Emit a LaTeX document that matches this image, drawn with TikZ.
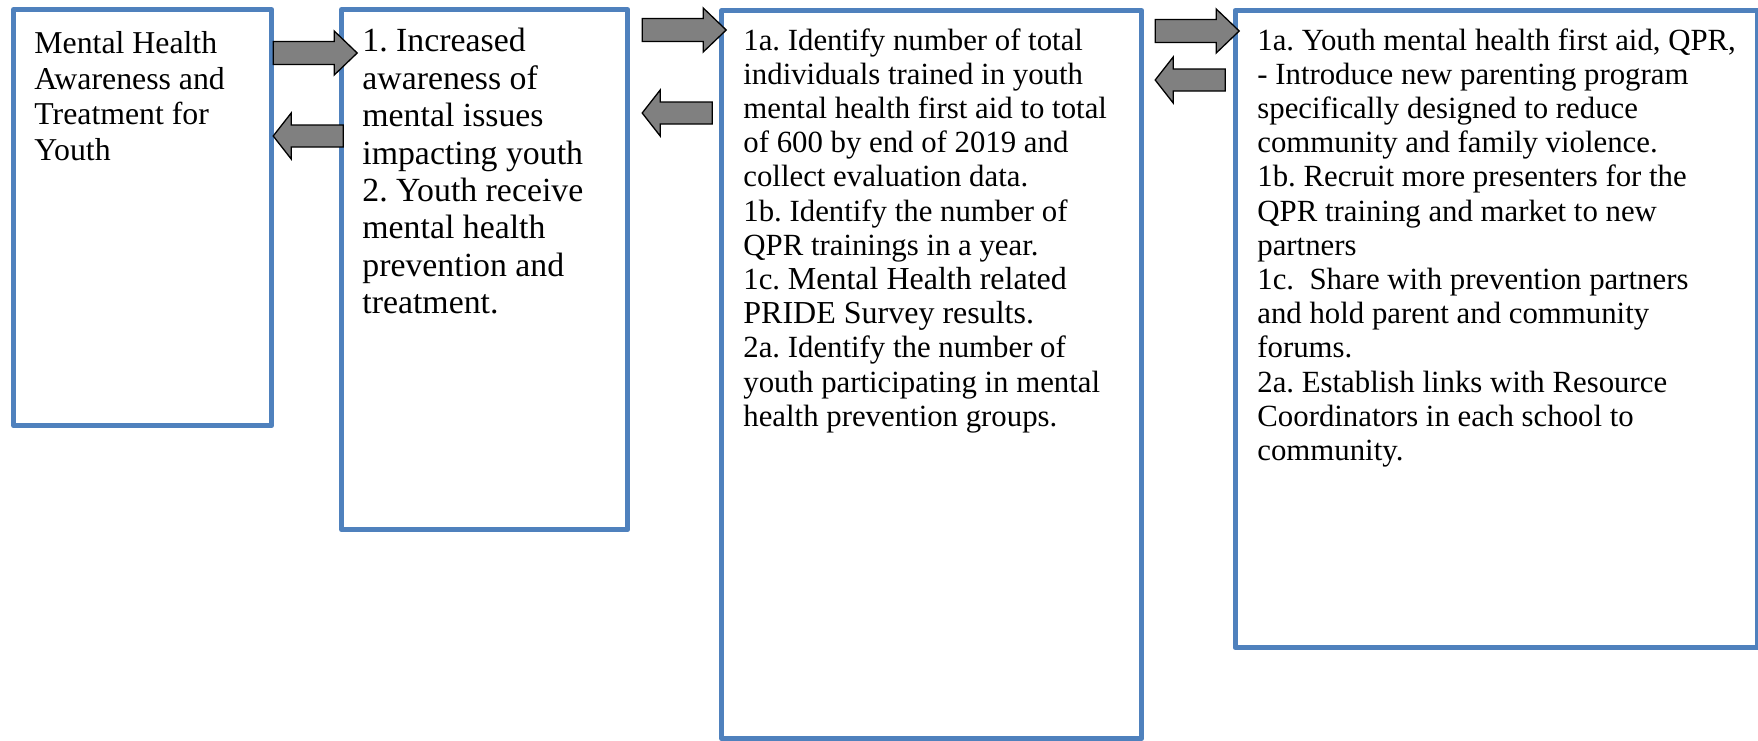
\documentclass[tikz,border=0pt]{standalone}
\usepackage{fontspec}
\setmainfont{Liberation Serif}
\usetikzlibrary{calc}
\frenchspacing
\definecolor{boxblue}{HTML}{4F81BD}
\definecolor{arrgray}{HTML}{808080}
\newcommand{\fOne}{\fontsize{15.9}{17.8}\selectfont}
\newcommand{\fTwo}{\fontsize{16.9}{18.7}\selectfont}
\newcommand{\fCam}{\fontsize{15.4}{17.1}\selectfont}
\newcommand{\fTms}{\fontsize{16}{17.1}\selectfont}
\tikzset{
	box/.style={draw=boxblue, line width=2.6pt, fill=white, anchor=north west, inner sep=0pt},
	boxtext/.style={anchor=north west, align=left, inner sep=0pt},
	blockarr/.style={draw=black, fill=arrgray, line width=0.65pt, line join=miter},
	rblock/.pic={\draw[blockarr] (0,-11.5) -- (61,-11.5) -- (61,-22) -- (84,0) -- (61,22) -- (61,11.5) -- (0,11.5) -- cycle;},
	lblock/.pic={\draw[blockarr] (0,0) -- (18,-23) -- (18,-11) -- (70,-11) -- (70,11) -- (18,11) -- (18,23) -- cycle;},
}
\begin{document}
\begin{tikzpicture}[x=0.5pt, y=-0.5pt, line join=round]
	\useasboundingbox (0,0) rectangle (1758,740);
	% the four boxes
	\node[box, minimum width=129pt, minimum height=208pt] (b1) at (11,7) {};
	\node[box, minimum width=143pt, minimum height=260pt] (b2) at (339,7) {};
	\node[box, minimum width=210pt, minimum height=364pt] (b3) at (719,8) {};
	\node[box, minimum width=261.25pt, minimum height=318.5pt] (b4) at (1232.5,8) {};
	% texts
	\node[boxtext, font=\fOne] (t1) at (34,31) {Mental Health\\Awareness and\\Treatment for\\Youth};
	\node[boxtext, font=\fTwo] (t2) at (362,28) {1. Increased\\awareness of\\mental issues\\impacting youth\\2. Youth receive\\mental health\\prevention and\\treatment.};
	\node[boxtext, font=\fCam] (t3) at (743,28) {1a. Identify number of total\\individuals trained in youth\\mental health first aid to total\\of 600 by end of 2019 and\\collect evaluation data.\\1b. Identify the number of\\QPR trainings in a year.\\1c. {\fTms Mental Health related}\\{\fTms PRIDE Survey results.}\\2a. Identify the number of\\youth participating in mental\\health prevention groups.};
	\node[boxtext, font=\fCam] (t4) at (1257,28) {1a. Youth mental health first aid, QPR,\\- Introduce new parenting program\\specifically designed to reduce\\community and family violence.\\1b. Recruit more presenters for the\\QPR training and market to new\\partners\\1c.~ Share with prevention partners\\and hold parent and community\\forums.\\2a. Establish links with Resource\\Coordinators in each school to\\community.};
	% block arrows between the boxes
	\pic at ($(b1.north east)+(-1,46)$) {rblock};
	\pic at ($(b1.north east)+(-1,129)$) {lblock};
	\pic at ($(b2.north east)+(12,23)$) {rblock};
	\pic at ($(b2.north east)+(12,106)$) {lblock};
	\pic at ($(b3.north east)+(11,23)$) {rblock};
	\pic at ($(b3.north east)+(11,72)$) {lblock};
\end{tikzpicture}
\end{document}
